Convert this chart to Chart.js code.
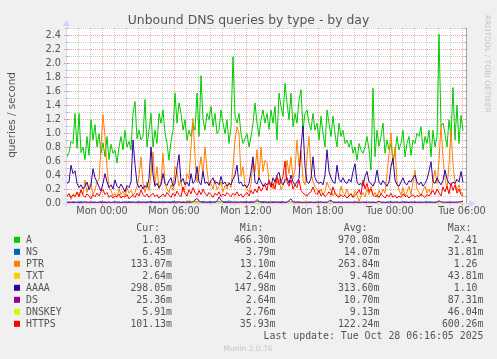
<!DOCTYPE html>
<html><head><meta charset="utf-8">
<script src="https://cdn.jsdelivr.net/npm/chart.js@4.4.0/dist/chart.umd.min.js"></script>
<style>html,body{margin:0;padding:0;background:#f0f0f0;}canvas{display:block;}</style>
</head><body><canvas id="c" width="497" height="359"></canvas>
<script>
// ---- sample times: minutes relative to Mon 00:00, one sample every 10 minutes ----
const sampleStartMin = -175;   // Sun 21:05
const sampleStepMin = 10;

// ---- series values (queries / second) ----
const seriesA = [
0.66,0.72,0.88,0.85,1.28,0.78,1.28,0.72,0.80,0.62,
0.95,0.68,1.19,0.90,1.12,0.80,0.99,0.71,0.86,0.66,
0.95,0.62,0.84,0.71,0.76,0.57,0.80,0.95,0.76,1.04,
0.80,0.88,0.76,1.28,1.45,0.92,1.04,0.90,0.95,1.48,
0.80,1.04,1.28,0.80,1.04,0.85,1.28,1.14,1.33,1.00,
0.85,0.61,0.88,1.04,1.57,1.14,1.43,1.28,1.04,1.19,
0.90,1.04,0.95,1.14,1.04,1.57,0.95,1.82,1.19,1.04,
1.28,1.19,1.38,1.09,1.28,0.99,1.04,1.33,1.14,0.99,
1.19,0.85,1.09,2.09,1.24,1.14,1.28,0.99,0.85,0.92,
0.99,0.80,0.95,1.14,1.43,1.14,0.95,1.19,1.33,1.14,
1.28,1.05,1.33,1.14,1.38,0.90,1.57,1.38,1.24,1.71,
1.43,1.19,1.57,1.09,1.28,1.14,1.47,1.62,1.04,1.28,
1.33,1.14,1.04,1.28,1.04,1.14,0.90,1.24,0.99,0.80,
1.33,1.14,0.95,1.24,0.99,0.80,1.14,0.95,1.04,0.85,
0.90,0.80,0.90,0.71,0.80,0.61,0.85,0.76,0.71,0.80,
0.95,0.76,0.47,1.64,0.66,1.04,0.81,0.95,1.14,0.71,
0.90,0.76,0.85,0.61,0.71,0.95,0.76,0.85,1.04,0.66,
0.85,0.95,0.68,0.90,0.85,1.00,0.95,1.09,0.76,0.95,
0.85,1.04,0.66,1.04,0.80,0.95,2.41,1.10,1.14,0.99,
0.80,1.19,0.95,1.65,0.90,1.40,0.85,1.25,1.03];

const seriesNS = [
0.012,0.015,0.010,0.018,0.013,0.009,0.014,0.020,0.011,0.016,
0.013,0.010,0.017,0.012,0.015,0.008,0.014,0.019,0.012,0.016,
0.011,0.014,0.009,0.013,0.018,0.012,0.015,0.010,0.014,0.017,
0.012,0.020,0.013,0.016,0.011,0.014,0.018,0.012,0.015,0.013,
0.017,0.012,0.022,0.014,0.016,0.011,0.019,0.013,0.015,0.018,
0.012,0.016,0.014,0.020,0.013,0.017,0.015,0.012,0.018,0.014,
0.016,0.021,0.013,0.015,0.019,0.012,0.017,0.014,0.025,0.015,
0.013,0.018,0.016,0.012,0.020,0.014,0.017,0.013,0.015,0.019,
0.014,0.032,0.016,0.013,0.018,0.015,0.012,0.017,0.014,0.020,
0.016,0.013,0.019,0.015,0.012,0.018,0.014,0.016,0.021,0.013,
0.015,0.017,0.012,0.019,0.014,0.016,0.013,0.018,0.015,0.011,
0.014,0.017,0.012,0.015,0.010,0.013,0.016,0.011,0.014,0.012,
0.010,0.013,0.015,0.009,0.012,0.014,0.011,0.016,0.010,0.013,
0.012,0.009,0.014,0.011,0.013,0.010,0.015,0.012,0.008,0.013,
0.011,0.014,0.010,0.012,0.016,0.011,0.013,0.009,0.012,0.015,
0.010,0.013,0.011,0.014,0.009,0.012,0.016,0.011,0.013,0.010,
0.014,0.012,0.017,0.011,0.013,0.015,0.010,0.014,0.012,0.018,
0.013,0.011,0.015,0.012,0.016,0.010,0.014,0.013,0.011,0.015,
0.012,0.017,0.013,0.010,0.014,0.012,0.016,0.011,0.013,0.009,
0.012,0.015,0.010,0.013,0.011,0.014,0.008,0.012,0.0065];

const seriesPTR = [
0.10,0.14,0.05,0.12,0.08,0.16,0.10,0.19,0.12,0.33,
0.15,0.25,0.28,0.12,0.19,0.30,0.33,0.80,1.26,0.95,
0.50,0.22,0.18,0.10,0.14,0.08,0.20,0.12,0.17,0.10,
0.22,0.14,0.18,0.11,0.15,0.24,0.38,0.66,0.28,0.15,
0.30,0.18,0.42,0.73,0.25,0.52,0.20,0.30,0.71,0.28,
0.20,0.15,0.26,0.18,0.52,0.45,0.24,0.31,0.16,0.22,
0.42,0.35,0.80,1.21,0.66,0.30,0.45,0.66,0.40,0.80,
0.47,0.25,0.28,0.20,0.33,0.19,0.24,0.30,0.16,0.25,
0.20,0.30,0.22,0.52,0.90,1.09,0.99,0.38,0.52,0.25,
0.20,0.16,0.28,0.61,0.45,0.76,0.33,0.80,0.45,0.61,
0.58,0.30,0.28,0.20,0.33,0.28,0.35,0.19,0.25,0.36,
0.61,0.42,0.66,0.35,0.47,0.90,0.52,0.75,0.33,0.26,
0.66,0.95,0.45,0.30,0.24,0.19,0.14,0.20,0.12,0.17,
0.30,0.22,0.19,0.10,0.15,0.12,0.09,0.24,0.15,0.12,
0.20,0.10,0.14,0.08,0.17,0.12,0.02,0.10,0.15,0.09,
0.20,0.12,0.24,0.10,0.15,0.08,0.18,0.12,0.20,0.14,
0.42,0.70,1.00,0.55,0.80,0.30,0.18,0.12,0.22,0.10,
0.16,0.24,0.12,0.30,0.47,0.20,0.15,0.10,0.18,0.24,
0.14,0.20,0.12,0.30,0.47,0.28,0.60,1.11,0.66,0.35,
0.20,0.55,1.04,0.55,0.30,0.18,0.26,0.15,0.133];

const seriesTXT = [
0.004,0.005,0.003,0.006,0.004,0.003,0.005,0.004,0.005,0.003,
0.004,0.006,0.004,0.003,0.005,0.004,0.007,0.003,0.004,0.005,
0.004,0.003,0.005,0.004,0.003,0.005,0.004,0.006,0.003,0.004,
0.005,0.004,0.003,0.005,0.004,0.003,0.007,0.004,0.005,0.003,
0.004,0.005,0.004,0.008,0.005,0.003,0.006,0.004,0.004,0.005,
0.007,0.004,0.006,0.004,0.009,0.005,0.007,0.012,0.006,0.010,
0.030,0.044,0.028,0.010,0.006,0.012,0.007,0.005,0.006,0.004,
0.006,0.004,0.006,0.005,0.008,0.004,0.006,0.004,0.007,0.005,
0.004,0.006,0.004,0.006,0.022,0.005,0.007,0.004,0.006,0.004,
0.006,0.005,0.008,0.004,0.006,0.004,0.007,0.005,0.006,0.004,
0.006,0.008,0.004,0.006,0.004,0.006,0.005,0.007,0.004,0.006,
0.004,0.006,0.005,0.020,0.006,0.004,0.006,0.004,0.005,0.007,
0.004,0.006,0.004,0.005,0.003,0.006,0.004,0.006,0.004,0.005,
0.003,0.006,0.004,0.006,0.004,0.005,0.003,0.006,0.004,0.004,
0.005,0.003,0.006,0.004,0.006,0.004,0.018,0.005,0.004,0.006,
0.004,0.003,0.005,0.004,0.006,0.004,0.003,0.006,0.004,0.005,
0.006,0.004,0.006,0.004,0.008,0.005,0.004,0.006,0.004,0.006,
0.004,0.005,0.003,0.006,0.004,0.006,0.004,0.005,0.003,0.004,
0.006,0.004,0.005,0.003,0.004,0.003,0.004,0.003,0.003,0.003,
0.003,0.003,0.003,0.003,0.003,0.003,0.003,0.003,0.0026];

const seriesAAAA = [
0.28,0.30,0.54,0.42,0.46,0.28,0.22,0.26,0.20,0.24,
0.30,0.19,0.26,0.49,0.36,0.30,0.23,0.17,0.28,0.42,
0.30,0.22,0.26,0.20,0.33,0.24,0.21,0.27,0.22,0.16,
0.25,0.22,0.30,0.90,0.55,0.28,0.22,0.26,0.20,0.25,
0.22,0.35,0.80,0.40,0.24,0.28,0.22,0.26,0.42,0.28,
0.25,0.32,0.36,0.24,0.28,0.50,0.69,0.30,0.35,0.26,
0.30,0.24,0.42,0.28,0.32,0.52,0.30,0.26,0.45,0.28,
0.30,0.25,0.32,0.36,0.28,0.30,0.26,0.38,0.27,0.30,
0.24,0.28,0.26,0.34,0.40,0.54,0.28,0.30,0.24,0.26,
0.22,0.28,0.45,0.66,0.30,0.27,0.36,0.30,0.24,0.28,
0.26,0.30,0.24,0.36,0.30,0.40,0.44,0.30,0.26,0.32,
0.36,0.28,0.40,0.30,0.26,0.30,0.35,0.80,1.10,0.52,
0.30,0.28,0.35,0.66,0.36,0.30,0.28,0.30,0.26,0.40,
0.76,0.45,0.36,0.30,0.28,0.54,0.34,0.30,0.36,0.30,
0.28,0.34,0.30,0.45,0.56,0.30,0.26,0.28,0.24,0.38,
0.45,0.30,0.28,0.24,0.30,0.47,0.30,0.26,0.32,0.28,
0.24,0.30,0.52,0.64,0.33,0.26,0.24,0.30,0.36,0.28,
0.26,0.32,0.30,0.36,0.40,0.30,0.26,0.30,0.24,0.28,
0.34,0.45,0.59,0.30,0.28,0.36,0.30,0.26,0.32,0.47,
0.34,0.28,0.26,0.30,0.28,0.34,0.30,0.45,0.298];

const seriesDS = [
0.010,0.008,0.012,0.006,0.009,0.011,0.007,0.010,0.008,0.013,
0.009,0.006,0.011,0.008,0.010,0.007,0.012,0.009,0.006,0.010,
0.008,0.011,0.007,0.009,0.012,0.008,0.010,0.006,0.009,0.011,
0.007,0.010,0.008,0.013,0.009,0.006,0.010,0.008,0.011,0.007,
0.009,0.012,0.008,0.010,0.007,0.011,0.009,0.006,0.010,0.008,
0.012,0.009,0.007,0.011,0.008,0.010,0.014,0.009,0.007,0.010,
0.008,0.011,0.009,0.020,0.045,0.065,0.030,0.012,0.009,0.011,
0.008,0.010,0.007,0.012,0.009,0.025,0.087,0.040,0.011,0.008,
0.010,0.007,0.012,0.009,0.011,0.008,0.010,0.013,0.009,0.007,
0.011,0.008,0.010,0.009,0.018,0.050,0.022,0.010,0.008,0.012,
0.009,0.007,0.011,0.008,0.010,0.012,0.009,0.007,0.010,0.008,
0.011,0.035,0.060,0.015,0.009,0.012,0.008,0.010,0.007,0.011,
0.009,0.008,0.012,0.010,0.007,0.011,0.009,0.013,0.008,0.010,
0.007,0.030,0.040,0.012,0.009,0.008,0.011,0.007,0.010,0.009,
0.012,0.008,0.010,0.007,0.011,0.009,0.008,0.010,0.012,0.007,
0.009,0.011,0.008,0.010,0.007,0.012,0.025,0.009,0.008,0.010,
0.007,0.011,0.009,0.008,0.012,0.010,0.007,0.009,0.011,0.008,
0.010,0.007,0.012,0.009,0.008,0.011,0.010,0.007,0.009,0.012,
0.008,0.010,0.009,0.011,0.007,0.012,0.030,0.018,0.009,0.011,
0.008,0.010,0.007,0.012,0.009,0.011,0.015,0.020,0.025];

const seriesDNSKEY = [
0.004,0.006,0.004,0.007,0.005,0.003,0.006,0.004,0.006,0.004,
0.005,0.007,0.004,0.003,0.006,0.004,0.006,0.004,0.005,0.008,
0.004,0.003,0.006,0.005,0.004,0.006,0.004,0.007,0.004,0.005,
0.006,0.004,0.003,0.006,0.005,0.004,0.008,0.004,0.006,0.004,
0.005,0.006,0.004,0.007,0.006,0.004,0.006,0.005,0.004,0.006,
0.008,0.005,0.006,0.004,0.007,0.006,0.005,0.006,0.006,0.007,
0.006,0.005,0.008,0.015,0.035,0.046,0.030,0.008,0.005,0.006,
0.005,0.007,0.004,0.006,0.006,0.008,0.005,0.006,0.004,0.006,
0.007,0.005,0.006,0.004,0.006,0.008,0.005,0.006,0.006,0.004,
0.006,0.005,0.007,0.006,0.004,0.006,0.008,0.005,0.006,0.007,
0.005,0.006,0.004,0.006,0.007,0.005,0.006,0.004,0.008,0.006,
0.006,0.005,0.007,0.006,0.004,0.006,0.005,0.008,0.018,0.030,
0.008,0.005,0.006,0.004,0.006,0.007,0.005,0.006,0.004,0.006,
0.005,0.006,0.004,0.006,0.004,0.007,0.005,0.006,0.004,0.006,
0.004,0.006,0.004,0.006,0.005,0.003,0.006,0.004,0.006,0.004,
0.005,0.004,0.006,0.004,0.006,0.005,0.003,0.006,0.004,0.005,
0.006,0.004,0.006,0.004,0.005,0.007,0.004,0.006,0.004,0.005,
0.004,0.006,0.004,0.006,0.005,0.003,0.006,0.004,0.005,0.004,
0.006,0.004,0.005,0.003,0.004,0.006,0.004,0.005,0.003,0.004,
0.004,0.005,0.003,0.004,0.003,0.004,0.003,0.004,0.0059];

const seriesHTTPS = [
0.10,0.13,0.08,0.12,0.10,0.15,0.09,0.19,0.11,0.08,
0.13,0.10,0.06,0.12,0.09,0.14,0.10,0.16,0.19,0.12,
0.15,0.08,0.11,0.07,0.10,0.09,0.13,0.07,0.10,0.08,
0.12,0.06,0.09,0.11,0.08,0.14,0.10,0.19,0.12,0.09,
0.13,0.08,0.11,0.14,0.09,0.12,0.07,0.10,0.13,0.09,
0.15,0.11,0.08,0.14,0.10,0.17,0.12,0.09,0.23,0.14,
0.10,0.19,0.13,0.22,0.15,0.11,0.18,0.12,0.20,0.14,
0.10,0.15,0.12,0.08,0.14,0.11,0.16,0.09,0.13,0.10,
0.15,0.12,0.09,0.14,0.11,0.16,0.10,0.13,0.08,0.12,
0.15,0.10,0.18,0.13,0.20,0.15,0.24,0.17,0.22,0.26,
0.18,0.33,0.22,0.28,0.20,0.38,0.26,0.30,0.38,0.60,
0.30,0.24,0.33,0.20,0.26,0.22,0.33,0.18,0.14,0.12,
0.10,0.14,0.16,0.23,0.15,0.12,0.18,0.10,0.14,0.09,
0.12,0.16,0.11,0.23,0.14,0.10,0.08,0.12,0.09,0.11,
0.07,0.10,0.13,0.08,0.11,0.14,0.19,0.12,0.33,0.20,
0.28,0.16,0.20,0.12,0.09,0.11,0.08,0.13,0.10,0.07,
0.12,0.09,0.14,0.08,0.11,0.07,0.10,0.08,0.13,0.09,
0.11,0.07,0.10,0.12,0.08,0.11,0.09,0.13,0.10,0.08,
0.12,0.10,0.14,0.18,0.12,0.20,0.15,0.10,0.23,0.16,
0.24,0.13,0.28,0.18,0.26,0.14,0.20,0.12,0.101];

// ---- legend / names ----
const seriesNames  = ['A','NS','PTR','TXT','AAAA','DS','DNSKEY','HTTPS'];
const seriesColors = ['#00CC00','#0066B3','#FF8000','#FFCC00','#330099','#990099','#CCFF00','#FF0000'];
const drawOrder    = [8, 7, 6, 5, 4, 2, 3, 1];   // lower = drawn on top
const legendCur = ['1.03','6.45m','133.07m','2.64m','298.05m','25.36m','5.91m','101.13m'];
const legendMin = ['466.30m','3.79m','13.10m','2.64m','147.98m','2.64m','2.76m','35.93m'];
const legendAvg = ['970.08m','14.07m','263.84m','9.48m','313.60m','10.70m','9.13m','122.24m'];
const legendMax = ['2.41','31.81m','1.26','43.81m','1.10','87.31m','46.04m','600.26m'];

// ---- axis ticks ----
const xLabelMinutes = [0, 360, 720, 1080, 1440, 1800];
const xLabelTexts = ['Mon 00:00','Mon 06:00','Mon 12:00','Mon 18:00','Tue 00:00','Tue 06:00'];
const yLabelTexts = ['0.0','0.2','0.4','0.6','0.8','1.0','1.2','1.4','1.6','1.8','2.0','2.2','2.4'];

const titleText = 'Unbound DNS queries by type - by day';
const yTitleText = 'queries / second';
const lastUpdateText = 'Last update: Tue Oct 28 06:16:05 2025';

// ---------------------------------------------------------------
const allSeries = [seriesA, seriesNS, seriesPTR, seriesTXT, seriesAAAA, seriesDS, seriesDNSKEY, seriesHTTPS];
const times = seriesA.map((_, i) => sampleStartMin + i * sampleStepMin);
const hourTicks = []; for (let m = -120; m <= 1800; m += 60) hourTicks.push(m);
const yGrid = []; for (let k = 0; k <= 25; k++) yGrid.push(k / 10);

const FONT = '"DejaVu Sans", "Liberation Sans", sans-serif';
const MONO = '"DejaVu Sans Mono", "Liberation Mono", monospace';
const TXTCOL = '#555555';
const MINOR = 'rgba(143,143,143,0.45)';
const MAJOR = 'rgba(222,79,79,0.5)';
const AXIS = '#CFD6F8';

const datasets = allSeries.map((s, k) => ({
  label: seriesNames[k],
  data: s.map((v, i) => ({ x: times[i], y: v })),
  borderColor: seriesColors[k],
  backgroundColor: seriesColors[k],
  borderWidth: 1,
  pointRadius: 0,
  tension: 0,
  fill: false,
  order: drawOrder[k]
}));

const muninPlugin = {
  id: 'munin',
  beforeDraw(chart) {
    const { ctx, chartArea: a } = chart;
    ctx.save();
    ctx.fillStyle = '#f0f0f0';
    ctx.fillRect(0, 0, chart.width, chart.height);
    ctx.fillStyle = '#ffffff';
    ctx.fillRect(a.left, a.top, a.right - a.left, a.bottom - a.top);
    ctx.restore();
  },
  beforeDatasetsDraw(chart) {
    const { ctx, chartArea: a, scales } = chart;
    const x = scales.x, y = scales.y;
    ctx.save();
    ctx.lineWidth = 1;
    ctx.setLineDash([1, 1]);
    y.ticks.forEach(t => {
      const v = Math.round(t.value * 10);
      if (v === 0) return;
      const py = Math.round(y.getPixelForValue(t.value)) + 0.5;
      ctx.strokeStyle = (v % 2 === 0) ? MAJOR : MINOR;
      ctx.beginPath(); ctx.moveTo(a.left, py); ctx.lineTo(a.right, py); ctx.stroke();
    });
    x.ticks.forEach(t => {
      const px = Math.round(x.getPixelForValue(t.value)) + 0.5;
      ctx.strokeStyle = (t.value % 360 === 0) ? MAJOR : MINOR;
      ctx.beginPath(); ctx.moveTo(px, a.top); ctx.lineTo(px, a.bottom); ctx.stroke();
    });
    ctx.setLineDash([]);
    // tick marks on the axes
    x.ticks.forEach(t => {
      const px = Math.round(x.getPixelForValue(t.value)) + 0.5;
      const major = t.value % 360 === 0;
      ctx.strokeStyle = major ? MAJOR : MINOR;
      ctx.beginPath(); ctx.moveTo(px, a.bottom - 2); ctx.lineTo(px, a.bottom + (major ? 3 : 2)); ctx.stroke();
    });
    y.ticks.forEach(t => {
      const v = Math.round(t.value * 10);
      const py = Math.round(y.getPixelForValue(t.value)) + 0.5;
      const major = v % 2 === 0;
      ctx.strokeStyle = major ? MAJOR : MINOR;
      ctx.beginPath(); ctx.moveTo(a.left - (major ? 3 : 2), py); ctx.lineTo(a.left + 2, py); ctx.stroke();
    });
    // right edge line with small ticks
    const rx = Math.round(a.right) + 0.5;
    ctx.strokeStyle = '#a0a0a0';
    ctx.beginPath(); ctx.moveTo(rx, a.top); ctx.lineTo(rx, a.bottom); ctx.stroke();
    y.ticks.forEach(t => {
      const py = Math.round(y.getPixelForValue(t.value)) + 0.5;
      ctx.beginPath(); ctx.moveTo(rx - 2, py); ctx.lineTo(rx, py); ctx.stroke();
    });
    // axes with arrows (data is drawn over them)
    const lx = Math.round(a.left) - 0.5, by = Math.round(a.bottom) + 0.5;
    ctx.strokeStyle = AXIS; ctx.fillStyle = AXIS;
    ctx.beginPath(); ctx.moveTo(lx, a.bottom + 4); ctx.lineTo(lx, a.top - 4); ctx.stroke();
    ctx.beginPath(); ctx.moveTo(a.left - 4, by); ctx.lineTo(a.right + 4, by); ctx.stroke();
    ctx.beginPath();
    ctx.moveTo(lx - 3.5, a.top - 2); ctx.lineTo(lx + 3.5, a.top - 2); ctx.lineTo(lx, a.top - 8); ctx.closePath(); ctx.fill();
    ctx.beginPath();
    ctx.moveTo(a.right + 3, by - 3.5); ctx.lineTo(a.right + 3, by + 3.5); ctx.lineTo(a.right + 10, by); ctx.closePath(); ctx.fill();
    ctx.restore();
  },
  afterDraw(chart) {
    const { ctx } = chart;
    ctx.save();
    ctx.fillStyle = TXTCOL;
    // title
    ctx.font = '12.4px ' + FONT;
    ctx.textAlign = 'center'; ctx.textBaseline = 'alphabetic';
    ctx.fillText(titleText, 248.5, 24);
    // y-axis title
    ctx.save();
    ctx.translate(14.5, 115); ctx.rotate(-Math.PI / 2);
    ctx.font = '10.4px ' + FONT;
    ctx.textAlign = 'center'; ctx.textBaseline = 'alphabetic';
    ctx.fillText(yTitleText, 0, 0);
    ctx.restore();
    // watermark on the right
    ctx.save();
    ctx.translate(485, 15); ctx.rotate(Math.PI / 2);
    ctx.font = '7.6px ' + FONT;
    ctx.fillStyle = '#c4c4c4';
    ctx.textAlign = 'left'; ctx.textBaseline = 'alphabetic';
    ctx.fillText('RRDTOOL / TOBI OETIKER', 0, 0);
    ctx.restore();
    // legend
    ctx.font = '9.9px ' + MONO;
    ctx.textBaseline = 'alphabetic';
    ctx.textAlign = 'right';
    const colRight = [172, 275.5, 379.5, 483.5];
    const heads = ['Cur:', 'Min:', 'Avg:', 'Max:'];
    heads.forEach((h, c) => ctx.fillText(h, colRight[c] - 12, 230.7));
    const cols = [legendCur, legendMin, legendAvg, legendMax];
    seriesNames.forEach((name, r) => {
      const base = 242.8 + 12 * r;
      ctx.fillStyle = seriesColors[r];
      ctx.fillRect(14, base - 6, 6, 6);
      ctx.fillStyle = TXTCOL;
      ctx.textAlign = 'left';
      ctx.fillText(name, 26, base);
      ctx.textAlign = 'right';
      cols.forEach((col, c) => {
        const s = col[r];
        ctx.fillText(/m$/.test(s) ? s : s + ' ', colRight[c], base);
      });
    });
    ctx.textAlign = 'right';
    ctx.fillText(lastUpdateText, 483.5, 339);
    // footer
    ctx.font = '7.5px ' + FONT;
    ctx.fillStyle = '#c4c4c4';
    ctx.textAlign = 'center';
    ctx.fillText('Munin 2.0.76', 248, 350.5);
    ctx.restore();
  }
};

new Chart(document.getElementById('c'), {
  type: 'line',
  data: { datasets },
  plugins: [muninPlugin],
  options: {
    responsive: false,
    animation: false,
    devicePixelRatio: 1,
    events: [],
    layout: { padding: { left: 0, top: 28, right: 31, bottom: 136 } },
    plugins: { legend: { display: false }, tooltip: { enabled: false }, title: { display: false } },
    elements: { point: { radius: 0 }, line: { borderWidth: 1 } },
    scales: {
      x: {
        type: 'linear', position: 'bottom', min: -175, max: 1820,
        grid: { display: false, drawTicks: false },
        border: { display: false },
        afterBuildTicks: s => { s.ticks = hourTicks.map(v => ({ value: v })); },
        afterFit: s => { s.height = 20; },
        ticks: {
          autoSkip: false, maxRotation: 0, minRotation: 0, padding: 3,
          color: TXTCOL, font: { family: FONT, size: 9.7 },
          callback: v => { const k = xLabelMinutes.indexOf(v); return k >= 0 ? xLabelTexts[k] : ''; }
        }
      },
      y: {
        type: 'linear', position: 'left', min: 0, max: 2.5,
        grid: { display: false, drawTicks: false },
        border: { display: false },
        afterBuildTicks: s => { s.ticks = yGrid.map(v => ({ value: v })); },
        afterFit: s => { s.width = 67; },
        ticks: {
          autoSkip: false, padding: 6,
          color: TXTCOL, font: { family: FONT, size: 9.7 },
          callback: v => { const k = Math.round(v * 10); return (k % 2 === 0 && k / 2 < yLabelTexts.length) ? yLabelTexts[k / 2] : ''; }
        }
      }
    }
  }
});
</script>
</body></html>
